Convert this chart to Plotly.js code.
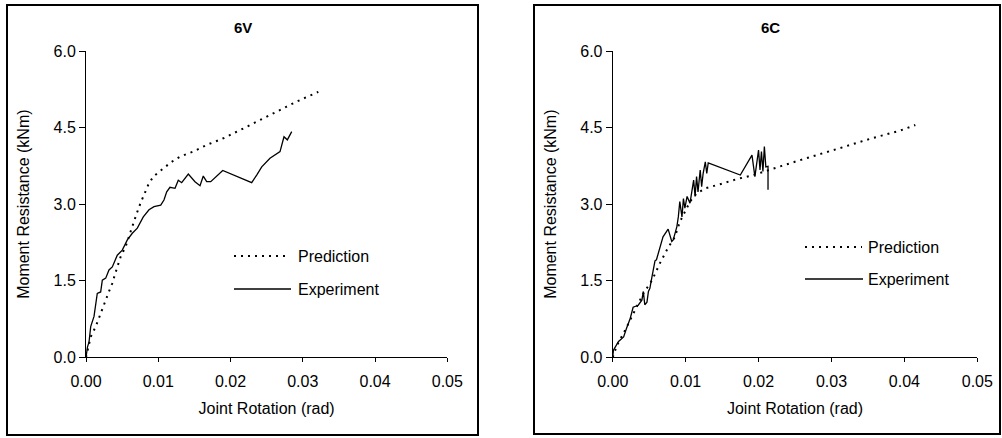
<!DOCTYPE html>
<html>
<head>
<meta charset="utf-8">
<script src="https://cdn.plot.ly/plotly-3.0.1.min.js"></script>
<style>html,body{margin:0;padding:0;background:#fff;}#chart{width:1002px;height:438px;}</style>
</head>
<body>
<div id="chart"></div>
<script>
// ---- Data ----
const panelTitles = ["6V", "6C"];
const seriesNames = ["Prediction", "Experiment"];
const xTitle = "Joint Rotation (rad)";
const yTitle = "Moment Resistance (kNm)";

const x6V_pred = [0, 0.00065, 0.00134, 0.0018, 0.00226, 0.00273, 0.00318, 0.00364, 0.00433, 0.0048, 0.00549, 0.00619, 0.00664, 0.0071, 0.00757, 0.00862, 0.00931, 0.0107, 0.01186, 0.013, 0.01485, 0.0167, 0.019, 0.02131, 0.02362, 0.02592, 0.02777, 0.02916, 0.03215];
const y6V_pred = [0, 0.40, 0.60, 0.76, 0.93, 1.12, 1.29, 1.45, 1.77, 1.97, 2.17, 2.49, 2.66, 2.85, 3.03, 3.38, 3.54, 3.70, 3.83, 3.93, 4.03, 4.16, 4.29, 4.45, 4.62, 4.78, 4.91, 5.01, 5.20];

const x6V_exp = [0, 0.0002, 0.00042, 0.00065, 0.00111, 0.00134, 0.00156, 0.00203, 0.00226, 0.00273, 0.00318, 0.00364, 0.00433, 0.00502, 0.00572, 0.00641, 0.0071, 0.00793, 0.00872, 0.00941, 0.01034, 0.01079, 0.01117, 0.01162, 0.01232, 0.01277, 0.01324, 0.01416, 0.01508, 0.01578, 0.01623, 0.0167, 0.01726, 0.01892, 0.02293, 0.02362, 0.02432, 0.02546, 0.02685, 0.0274, 0.02786, 0.02847];
const y6V_exp = [0, 0.2, 0.3, 0.6, 0.8, 1.06, 1.25, 1.28, 1.51, 1.55, 1.71, 1.77, 2.0, 2.1, 2.3, 2.43, 2.53, 2.75, 2.89, 2.95, 2.98, 3.08, 3.24, 3.33, 3.31, 3.47, 3.42, 3.59, 3.44, 3.36, 3.55, 3.44, 3.44, 3.66, 3.42, 3.57, 3.73, 3.90, 4.03, 4.32, 4.26, 4.42];

const x6C_pred = [0, 0.0006, 0.0017, 0.0031, 0.0042, 0.0054, 0.0065, 0.0076, 0.0085, 0.0092, 0.0106, 0.0115, 0.0127, 0.0147, 0.017, 0.0193, 0.0211, 0.0232, 0.0252, 0.0271, 0.0291, 0.0312, 0.0332, 0.0353, 0.0376, 0.0394, 0.0415];
const y6C_pred = [0, 0.24, 0.53, 0.94, 1.25, 1.51, 1.85, 2.15, 2.35, 2.65, 3.05, 3.21, 3.31, 3.39, 3.49, 3.57, 3.66, 3.75, 3.84, 3.93, 4.01, 4.10, 4.19, 4.28, 4.37, 4.44, 4.55];

const x6C_exp = [0, 0.0001, 0.0008, 0.0015, 0.0019, 0.0024, 0.0028, 0.0035, 0.0040, 0.0042, 0.0044, 0.0047, 0.0049, 0.0051, 0.0053, 0.0058, 0.0060, 0.0069, 0.0076, 0.0081, 0.0083, 0.0088, 0.0090, 0.0092, 0.0095, 0.0097, 0.0099, 0.0102, 0.0106, 0.0111, 0.0113, 0.0115, 0.0117, 0.0120, 0.0122, 0.0124, 0.0127, 0.0129, 0.0131, 0.0175, 0.0191, 0.0195, 0.0200, 0.0202, 0.0204, 0.0206, 0.0208, 0.0210, 0.0213, 0.0213];
const y6C_exp = [0, 0.14, 0.31, 0.40, 0.57, 0.76, 0.98, 1.02, 1.12, 1.29, 1.03, 1.08, 1.29, 1.35, 1.51, 1.89, 1.91, 2.36, 2.51, 2.27, 2.30, 2.56, 2.75, 3.05, 2.75, 3.11, 2.92, 3.15, 3.02, 3.47, 3.15, 3.54, 3.24, 3.67, 3.34, 3.60, 3.83, 3.60, 3.81, 3.57, 3.96, 3.54, 4.06, 3.67, 4.03, 3.64, 4.13, 3.73, 3.74, 3.28];

// ---- Layout helpers (pixel -> paper, margins are zero) ----
const W = 1002, H = 438;
const PX = x => x / W;
const PY = y => 1 - y / H;

const FONT = "Liberation Sans, Arial, sans-serif";
const FS = 16;
const predLine = {color: "#000", width: 2, dash: "2px,5px"};
const expLine = {color: "#000", width: 1.3};

const traces = [
  {x: x6V_pred, y: y6V_pred, name: seriesNames[0], mode: "lines", line: predLine, xaxis: "x", yaxis: "y"},
  {x: x6V_exp, y: y6V_exp, name: seriesNames[1], mode: "lines", line: expLine, xaxis: "x", yaxis: "y"},
  {x: x6C_pred, y: y6C_pred, name: seriesNames[0], mode: "lines", line: predLine, xaxis: "x2", yaxis: "y2"},
  {x: x6C_exp, y: y6C_exp, name: seriesNames[1], mode: "lines", line: expLine, xaxis: "x2", yaxis: "y2"}
];

function xAxis(domain, anchor) {
  return {
    domain: domain, anchor: anchor, range: [0, 0.05], dtick: 0.01, tick0: 0, tickformat: ".2f",
    showgrid: false, zeroline: false, showline: true, linecolor: "#000", linewidth: 1,
    ticks: "outside", ticklen: 4, tickwidth: 1, tickcolor: "#000", ticklabelstandoff: 5,
    tickfont: {family: FONT, size: FS, color: "#000"},
    title: {text: xTitle, font: {family: FONT, size: FS, color: "#000"}, standoff: 14},
    fixedrange: true
  };
}
function yAxis(domain, anchor) {
  return {
    domain: domain, anchor: anchor, range: [0, 6], dtick: 1.5, tick0: 0, tickformat: ".1f",
    showgrid: false, zeroline: false, showline: true, linecolor: "#000", linewidth: 1,
    ticks: "outside", ticklen: 6, tickwidth: 1, tickcolor: "#000", ticklabelstandoff: 0,
    tickfont: {family: FONT, size: FS, color: "#000"},
    title: {text: yTitle, font: {family: FONT, size: FS, color: "#000"}, standoff: 19},
    fixedrange: true
  };
}

const yDom = [PY(357.3), PY(51)];
const legendFont = {family: FONT, size: FS, color: "#000"};
const layout = {
  width: W, height: H,
  margin: {l: 0, r: 0, t: 0, b: 0},
  paper_bgcolor: "#fff", plot_bgcolor: "#fff",
  showlegend: false,
  font: {family: FONT, size: FS, color: "#000"},
  xaxis: xAxis([PX(86), PX(447.3)], "y"),
  yaxis: yAxis(yDom, "x"),
  xaxis2: xAxis([PX(612.7), PX(977.3)], "y2"),
  yaxis2: yAxis(yDom, "x2"),
  shapes: [
    {type: "rect", xref: "paper", yref: "paper", x0: PX(7), x1: PX(478), y0: PY(435), y1: PY(5), line: {color: "#000", width: 2}},
    {type: "rect", xref: "paper", yref: "paper", x0: PX(534), x1: PX(1000), y0: PY(434), y1: PY(5), line: {color: "#000", width: 2}},
    // legend keys
    {type: "line", xref: "paper", yref: "paper", x0: PX(234), x1: PX(290), y0: PY(256), y1: PY(256), line: predLine},
    {type: "line", xref: "paper", yref: "paper", x0: PX(234), x1: PX(291), y0: PY(289), y1: PY(289), line: expLine},
    {type: "line", xref: "paper", yref: "paper", x0: PX(805), x1: PX(862), y0: PY(247), y1: PY(247), line: predLine},
    {type: "line", xref: "paper", yref: "paper", x0: PX(805), x1: PX(863), y0: PY(279), y1: PY(279), line: expLine}
  ],
  annotations: [
    {text: "<b>" + panelTitles[0] + "</b>", xref: "paper", yref: "paper", x: PX(243), y: PY(27), showarrow: false, xanchor: "center", yanchor: "middle", font: {family: FONT, size: 15, color: "#000"}},
    {text: "<b>" + panelTitles[1] + "</b>", xref: "paper", yref: "paper", x: PX(770), y: PY(27), showarrow: false, xanchor: "center", yanchor: "middle", font: {family: FONT, size: 15, color: "#000"}},
    {text: seriesNames[0], xref: "paper", yref: "paper", x: PX(296), y: PY(256), showarrow: false, xanchor: "left", yanchor: "middle", font: legendFont},
    {text: seriesNames[1], xref: "paper", yref: "paper", x: PX(296), y: PY(289), showarrow: false, xanchor: "left", yanchor: "middle", font: legendFont},
    {text: seriesNames[0], xref: "paper", yref: "paper", x: PX(866), y: PY(247), showarrow: false, xanchor: "left", yanchor: "middle", font: legendFont},
    {text: seriesNames[1], xref: "paper", yref: "paper", x: PX(866), y: PY(279), showarrow: false, xanchor: "left", yanchor: "middle", font: legendFont}
  ]
};

Plotly.newPlot("chart", traces, layout, {staticPlot: true, displayModeBar: false});
</script>
</body>
</html>
